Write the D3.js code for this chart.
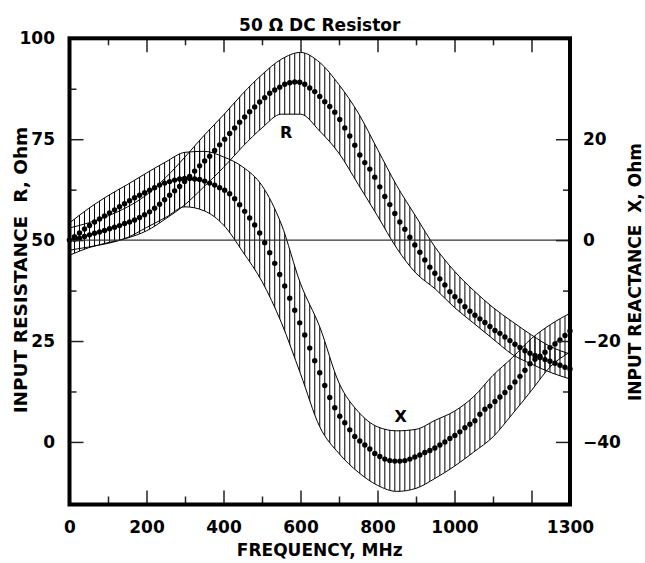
<!DOCTYPE html>
<html><head><meta charset="utf-8">
<script src="https://cdn.jsdelivr.net/npm/d3@7"></script>
<style>
body{margin:0;background:#fff}
svg{display:block}
text{font-family:"DejaVu Sans",Verdana,sans-serif;font-weight:bold;fill:#000}
</style>
</head><body>
<svg id="c" width="645" height="563"></svg>
<script>
// ---- data ----
const freq = d3.range(0, 1301, 13); // measurement frequencies, MHz
const rValues = [
 50.0,50.2,50.5,50.9,51.3,51.7,52.0,52.4,52.8,53.2,
 53.6,54.1,54.5,55.0,55.6,56.3,57.0,57.9,58.9,60.0,
 61.1,62.2,63.3,64.5,65.8,67.1,68.4,69.6,70.8,72.2,
 73.6,75.0,76.4,77.8,79.2,80.5,81.8,83.0,84.2,85.3,
 86.4,87.2,87.9,88.6,89.0,89.2,89.1,88.6,87.7,86.8,
 85.6,84.3,83.1,81.7,79.9,77.8,75.8,73.5,71.1,69.2,
 67.6,65.6,63.2,60.8,58.8,56.6,54.5,52.7,50.7,48.8,
 47.0,45.1,43.3,41.8,40.4,38.9,37.2,36.0,34.9,33.5,
 32.4,31.4,30.5,29.6,28.6,27.6,26.9,26.0,25.1,24.2,
 23.4,22.6,22.0,21.4,20.9,20.4,20.0,19.5,19.0,18.5,
 18.1];
const xValues = [
 0.0,0.7,1.4,2.2,2.9,3.6,4.2,4.8,5.4,6.0,
 6.6,7.2,7.8,8.4,8.9,9.4,9.9,10.4,10.9,11.3,
 11.6,11.9,12.1,12.2,12.2,12.1,12.0,11.7,11.3,10.9,
 10.4,9.9,9.2,8.2,7.0,5.7,4.4,3.0,1.4,-0.5,
 -2.5,-4.6,-6.8,-9.1,-11.5,-13.9,-16.4,-18.8,-21.4,-23.9,
 -26.3,-28.8,-31.2,-33.2,-34.9,-36.2,-37.6,-38.9,-39.8,-40.6,
 -41.4,-42.3,-42.9,-43.4,-43.7,-43.8,-43.8,-43.7,-43.4,-43.0,
 -42.6,-42.1,-41.7,-41.2,-40.6,-40.0,-39.3,-38.7,-38.0,-37.2,
 -36.5,-35.8,-34.5,-33.5,-32.9,-32.0,-31.1,-30.2,-29.2,-28.1,
 -27.0,-25.8,-24.5,-23.6,-23.0,-22.2,-21.3,-20.6,-19.8,-18.9,
 -18.0];
const bandFreq = [0,50,100,150,200,250,300,350,400,450,500,550,600,650,700,750,800,850,900,950,1000,1050,1100,1150,1200,1250,1300];
const rUpper = [53.0,54.3,56.0,58.2,61.2,65.5,70.6,76.0,81.0,86.3,91.0,94.8,96.5,94.0,88.5,81.5,72.5,63.5,55.8,48.2,42.3,37.5,33.3,29.8,26.5,23.6,21.8];
const rLower = [47.5,48.3,49.2,50.5,52.3,55.3,58.8,63.3,68.0,73.2,77.8,81.2,81.2,77.0,71.5,63.8,56.0,48.0,41.8,37.9,33.3,29.4,25.5,21.7,19.3,17.2,15.6];
const xUpper = [3.4,6.3,8.8,11.0,13.3,15.5,17.4,17.6,16.5,14.5,10.8,3.2,-8.6,-17.2,-28.3,-34.0,-37.0,-37.8,-37.5,-35.7,-33.9,-31.0,-26.8,-23.3,-19.5,-16.7,-14.5];
const xLower = [-3.0,-1.5,-0.5,0.5,2.5,4.5,6.6,5.8,3.0,-2.3,-8.2,-16.3,-26.5,-37.0,-42.3,-46.0,-48.6,-49.8,-49.2,-47.2,-44.8,-42.0,-39.0,-34.5,-29.8,-25.0,-22.2];

const xMajor = [0,200,400,600,800,1000,1200];
const xMinor = [100,300,500,700,900,1100];
const xTickLabels = [0,200,400,600,800,1000,1300];
const rMajor = [0,25,50,75,100];
const rMinor = [12.5,37.5,62.5,87.5];
const xrMajor = [-40,-20,0,20];
const xrMinor = [-30,-10,10];

const title = "50 \u03A9 DC Resistor";
const xTitle = "FREQUENCY, MHz";
const yLeftTitle = "INPUT RESISTANCE  R, Ohm";
const yRightTitle = "INPUT REACTANCE  X, Ohm";

// ---- layout ----
const L = 69.5, R = 570, T = 38.3, B = 504.5;
const svg = d3.select("#c");
const x = d3.scaleLinear().domain([0,1300]).range([L,R]);
const yR = d3.scaleLinear().domain([-15.5,100]).range([B,T]);
const yX = d3.scaleLinear().domain([-52.4,40]).range([B,T]);

const defs = svg.append("defs");
function band(lo, hi, ys, id){
  const area = d3.area().x((d,i)=>x(bandFreq[i])).y0((d,i)=>ys(lo[i])).y1((d,i)=>ys(hi[i])).curve(d3.curveMonotoneX);
  defs.append("clipPath").attr("id",id).append("path").attr("d", area(bandFreq));
  const g = svg.append("g").attr("clip-path",`url(#${id})`);
  g.selectAll("line").data(freq).join("line")
    .attr("x1",d=>x(d)).attr("x2",d=>x(d)).attr("y1",T).attr("y2",B)
    .attr("stroke","#000").attr("stroke-width",1);
  const lineU = d3.line().x((d,i)=>x(bandFreq[i])).y(d=>ys(d)).curve(d3.curveMonotoneX);
  svg.append("path").attr("d", lineU(hi)).attr("fill","none").attr("stroke","#000").attr("stroke-width",1);
  svg.append("path").attr("d", lineU(lo)).attr("fill","none").attr("stroke","#000").attr("stroke-width",1);
}
band(rLower, rUpper, yR, "clipR");
band(xLower, xUpper, yX, "clipX");

// reference line R=50 / X=0
svg.append("line").attr("x1",L).attr("x2",R).attr("y1",yR(50)).attr("y2",yR(50))
  .attr("stroke","#333").attr("stroke-width",1.2);

// dots
svg.append("g").selectAll("circle").data(freq).join("circle")
  .attr("cx",d=>x(d)).attr("cy",(d,i)=>yR(rValues[i])).attr("r",2.7).attr("fill","#000");
svg.append("g").selectAll("circle").data(freq).join("circle")
  .attr("cx",d=>x(d)).attr("cy",(d,i)=>yX(xValues[i])).attr("r",2.7).attr("fill","#000");

// axes (ticks point inward)
function styleAxis(g){ g.select(".domain").remove(); g.selectAll(".tick line").attr("stroke","#222").attr("stroke-width",1.5);
  g.selectAll("text").attr("font-size",17).attr("font-family","DejaVu Sans, Verdana, sans-serif").attr("font-weight","bold").attr("fill","#000"); }
const fmt = d3.format("d");
svg.append("g").attr("transform",`translate(${L},0)`).call(d3.axisLeft(yR).tickValues(rMajor).tickSize(-14).tickPadding(14.5).tickFormat(fmt)).call(styleAxis);
svg.append("g").attr("transform",`translate(${L},0)`).call(d3.axisLeft(yR).tickValues(rMinor).tickSize(-7).tickFormat("")).call(styleAxis);
svg.append("g").attr("transform",`translate(${R},0)`).call(d3.axisRight(yX).tickValues(xrMajor).tickSize(-14).tickPadding(13)
  .tickFormat(d=> d<0 ? "\u2212"+Math.abs(d) : fmt(d))).call(styleAxis);
svg.append("g").attr("transform",`translate(${R},0)`).call(d3.axisRight(yX).tickValues(xrMinor).tickSize(-7).tickFormat("")).call(styleAxis);
svg.append("g").attr("transform",`translate(0,${B})`).call(d3.axisBottom(x).tickValues(xMajor).tickSize(-14).tickFormat("")).call(styleAxis);
svg.append("g").attr("transform",`translate(0,${B})`).call(d3.axisBottom(x).tickValues(xMinor).tickSize(-8).tickFormat("")).call(styleAxis);
svg.append("g").attr("transform",`translate(0,${B})`).call(d3.axisBottom(x).tickValues(xTickLabels).tickSize(0).tickPadding(16).tickFormat(fmt)).call(styleAxis);
svg.append("g").attr("transform",`translate(0,${T})`).call(d3.axisTop(x).tickValues(xMajor).tickSize(-14).tickFormat("")).call(styleAxis);
svg.append("g").attr("transform",`translate(0,${T})`).call(d3.axisTop(x).tickValues(xMinor).tickSize(-7).tickFormat("")).call(styleAxis);

// frame
svg.append("rect").attr("x",L).attr("y",T).attr("width",R-L).attr("height",B-T)
  .attr("fill","none").attr("stroke","#000").attr("stroke-width",4);

// curve labels
svg.append("text").attr("x",x(563)).attr("y",yR(75.2)).attr("text-anchor","middle").attr("font-size",16).text("R");
svg.append("text").attr("x",x(860)).attr("y",yX(-36)).attr("text-anchor","middle").attr("font-size",16).text("X");

// titles
svg.append("text").attr("x",(L+R)/2).attr("y",30.5).attr("text-anchor","middle").attr("font-size",17).text(title);
svg.append("text").attr("x",(L+R)/2).attr("y",556).attr("text-anchor","middle").attr("font-size",17).text(xTitle);
svg.append("text").attr("transform","translate(27,270) rotate(-90)").attr("text-anchor","middle").attr("font-size",18.5).style("white-space","pre").text(yLeftTitle);
svg.append("text").attr("transform","translate(641,272) rotate(-90)").attr("text-anchor","middle").attr("font-size",17).style("white-space","pre").text(yRightTitle);
</script>
</body></html>
